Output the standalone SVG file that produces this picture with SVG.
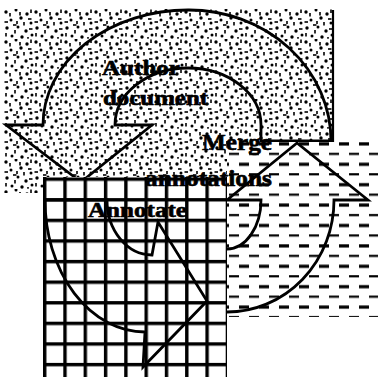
<svg xmlns="http://www.w3.org/2000/svg" width="378" height="377" viewBox="0 0 378 377">
<style>
.arrow{fill:none;stroke:#000;stroke-width:2.8;stroke-linejoin:miter}
.lbl{font-family:"Liberation Serif","Times New Roman",serif;font-weight:bold;fill:#000;stroke:#000;stroke-width:0.6}
</style>
<defs>
<pattern id="stipple" patternUnits="userSpaceOnUse" x="4" y="9" width="30" height="30">
<g fill="#000">
<circle cx="2" cy="3" r="1.7"/><circle cx="12" cy="1" r="1.5"/><circle cx="23" cy="5" r="1.7"/>
<circle cx="7" cy="11" r="1.5"/><circle cx="17" cy="9" r="1.7"/><circle cx="27" cy="14" r="1.5"/>
<circle cx="3" cy="19" r="1.7"/><circle cx="14" cy="18" r="1.5"/><circle cx="22" cy="22" r="1.7"/>
<circle cx="8" cy="27" r="1.5"/><circle cx="18" cy="28" r="1.7"/><circle cx="28" cy="26" r="1.5"/>
</g>
<g stroke="#000" stroke-width="1.6">
<line x1="6" y1="4" x2="6" y2="7.5"/><line x1="20" y1="13" x2="20" y2="16.5"/><line x1="11" y1="21" x2="11" y2="24.5"/>
<line x1="27" y1="0.5" x2="27" y2="4"/><line x1="16" y1="3" x2="16" y2="6.5"/><line x1="2" y1="24" x2="2" y2="27.5"/>
<line x1="24" y1="10" x2="27.5" y2="10"/><line x1="9" y1="16" x2="12.5" y2="16"/><line x1="0.5" y1="13" x2="4" y2="13"/>
<line x1="25" y1="20" x2="28.5" y2="20"/><line x1="13" y1="12" x2="13" y2="15"/><line x1="24" y1="28" x2="24" y2="29.8"/>
</g>
</pattern>
<pattern id="dashes" patternUnits="userSpaceOnUse" x="229" y="142" width="20" height="20.4">
<rect x="10" y="0.3" width="10.5" height="3.2" fill="#000"/>
<rect x="0" y="10.8" width="10" height="2.2" fill="#000"/>
</pattern>
<pattern id="grid" patternUnits="userSpaceOnUse" x="43" y="177.5" width="20.3" height="20.6">
<rect x="0" y="0" width="3.4" height="20.6" fill="#000"/>
<rect x="0" y="0" width="20.3" height="3.4" fill="#000"/>
</pattern>
</defs>
<rect width="378" height="377" fill="#fff"/>

<g id="author-document">
<rect x="4" y="9" width="329" height="184" fill="url(#stipple)"/>
<line x1="333" y1="10" x2="333" y2="142" stroke="#000" stroke-width="2.2"/>
</g>

<g id="connectors">
<path id="arrow-author" class="arrow" d="M331 141 A142 131 0 0 0 188 10 A145 115 0 0 0 43 125 L6 125 L81 182 L152 125 L115 125 A73 57 0 0 1 188 68 A73 57 0 0 1 261 125 L261 141 Z"/>
</g>

<g id="merge-annotations">
<rect x="227" y="142" width="151" height="175" fill="#fff"/>
<rect x="227" y="142" width="151" height="175" fill="url(#dashes)"/>
<path id="arrow-merge" class="arrow" d="M227 249 A34 49 0 0 0 261 200 L227 200 L297 143 L368 200 L334 200 A107 112 0 0 1 227 312"/>
</g>

<g id="annotate">
<rect x="43" y="177" width="184" height="200" fill="#fff"/>
<rect x="43" y="177" width="184" height="200" fill="url(#grid)"/>
<path id="arrow-annotate" class="arrow" d="M107 200 L45 200 A100 132 0 0 0 145 332 L143 367 L207 301 L158 222 L152 255 A45 55 0 0 1 107 200 Z"/>
</g>

<g id="labels">
<text class="lbl" x="102" y="75" font-size="20" textLength="78" lengthAdjust="spacingAndGlyphs">Author</text>
<text class="lbl" x="103" y="105" font-size="20" textLength="105" lengthAdjust="spacingAndGlyphs">document</text>
<text class="lbl" x="202" y="150" font-size="23" textLength="70" lengthAdjust="spacingAndGlyphs">Merge</text>
<text class="lbl" x="145" y="186" font-size="23" textLength="127" lengthAdjust="spacingAndGlyphs">annotations</text>
<text class="lbl" x="88" y="217" font-size="21" textLength="99" lengthAdjust="spacingAndGlyphs">Annotate</text>
</g>
</svg>
